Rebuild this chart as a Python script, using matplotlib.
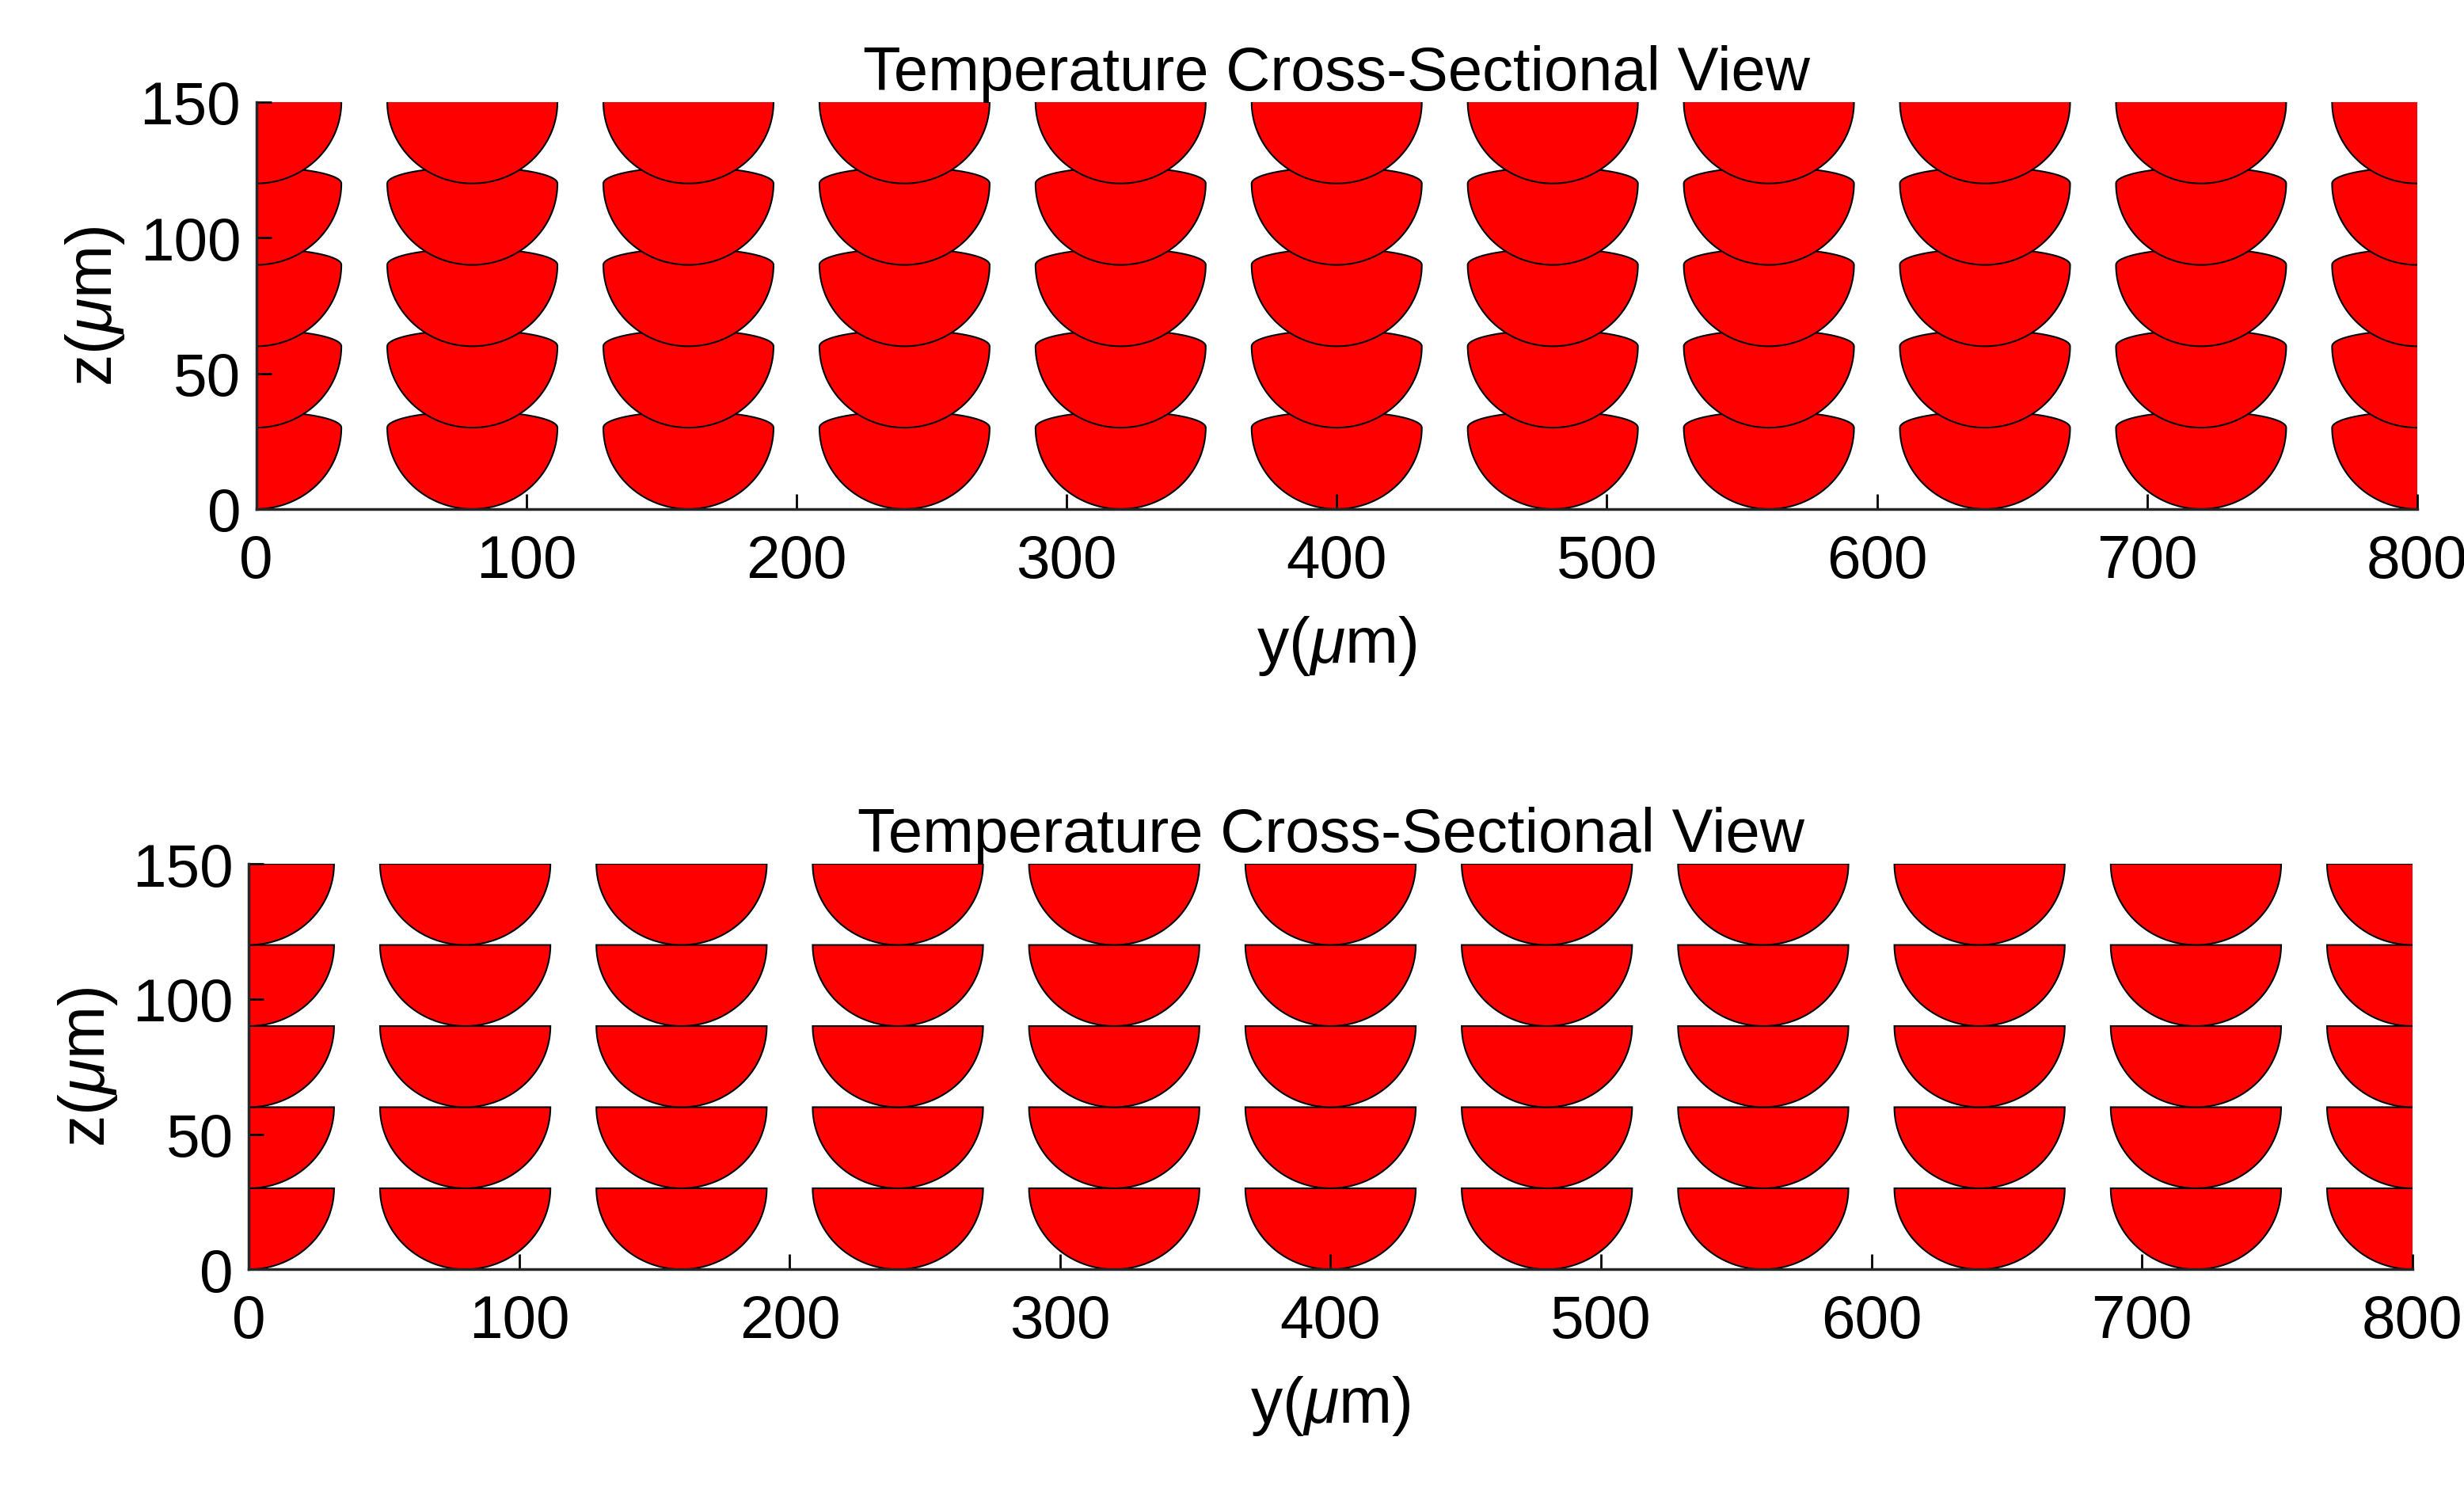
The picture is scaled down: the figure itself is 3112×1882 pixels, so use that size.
import matplotlib
matplotlib.use("Agg")
import matplotlib.pyplot as plt
import numpy as np
from matplotlib.patches import Polygon

plt.rcParams['font.family'] = ['Liberation Sans', 'DejaVu Sans']
plt.rcParams['mathtext.fontset'] = 'custom'
plt.rcParams['mathtext.it'] = 'Liberation Sans:italic'

track_centers = [0, 80, 160, 240, 320, 400, 480, 560, 640, 720, 800]
layer_tops = [30, 60, 90, 120, 150]
half_width = 31.5
depth = 30
cap_top = 6     # top panel: rounded cap above layer line
cap_bottom = 0  # bottom panel: flat top
xticks = [0, 100, 200, 300, 400, 500, 600, 700, 800]
yticks = [0, 50, 100, 150]

fig = plt.figure(figsize=(31.12, 18.83), dpi=100)
axes = [fig.add_axes([0.104, 0.658, 0.877, 0.273]),
        fig.add_axes([0.101, 0.148, 0.878, 0.272])]

def bead(yc, zc, cap):
    t = np.linspace(np.pi, 2*np.pi, 80)
    lower = np.column_stack([yc + half_width*np.cos(t), zc + depth*np.sin(t)])
    if cap > 0:
        t2 = np.linspace(0, np.pi, 60)
        upper = np.column_stack([yc + half_width*np.cos(t2), zc + cap*np.sin(t2)])
        pts = np.vstack([lower, upper])
    else:
        pts = lower
    return Polygon(pts, closed=True, facecolor='#ff0000', edgecolor='black', linewidth=1.5)

for ax, cap in zip(axes, [cap_top, cap_bottom]):
    for zc in layer_tops:
        for yc in track_centers:
            ax.add_patch(bead(yc, zc, cap))
    ax.set_xlim(0, 800)
    ax.set_ylim(0, 150)
    ax.set_xticks(xticks)
    ax.set_yticks(yticks)
    ax.tick_params(direction='in', length=14, width=2, labelsize=55, pad=22)
    ax.tick_params(axis='y', pad=14)
    for s in ['top', 'right']:
        ax.spines[s].set_visible(False)
    for s in ['bottom', 'left']:
        ax.spines[s].set_linewidth(2.5)
        ax.spines[s].set_color('#262626')
    ax.set_title('Temperature Cross-Sectional View', fontsize=56, pad=4)
    ax.set_xlabel(r'y($\mu$m)', fontsize=58, labelpad=22)
    ax.set_ylabel(r'z($\mu$m)', fontsize=58, labelpad=12)

fig.savefig('out.png', dpi=100)
